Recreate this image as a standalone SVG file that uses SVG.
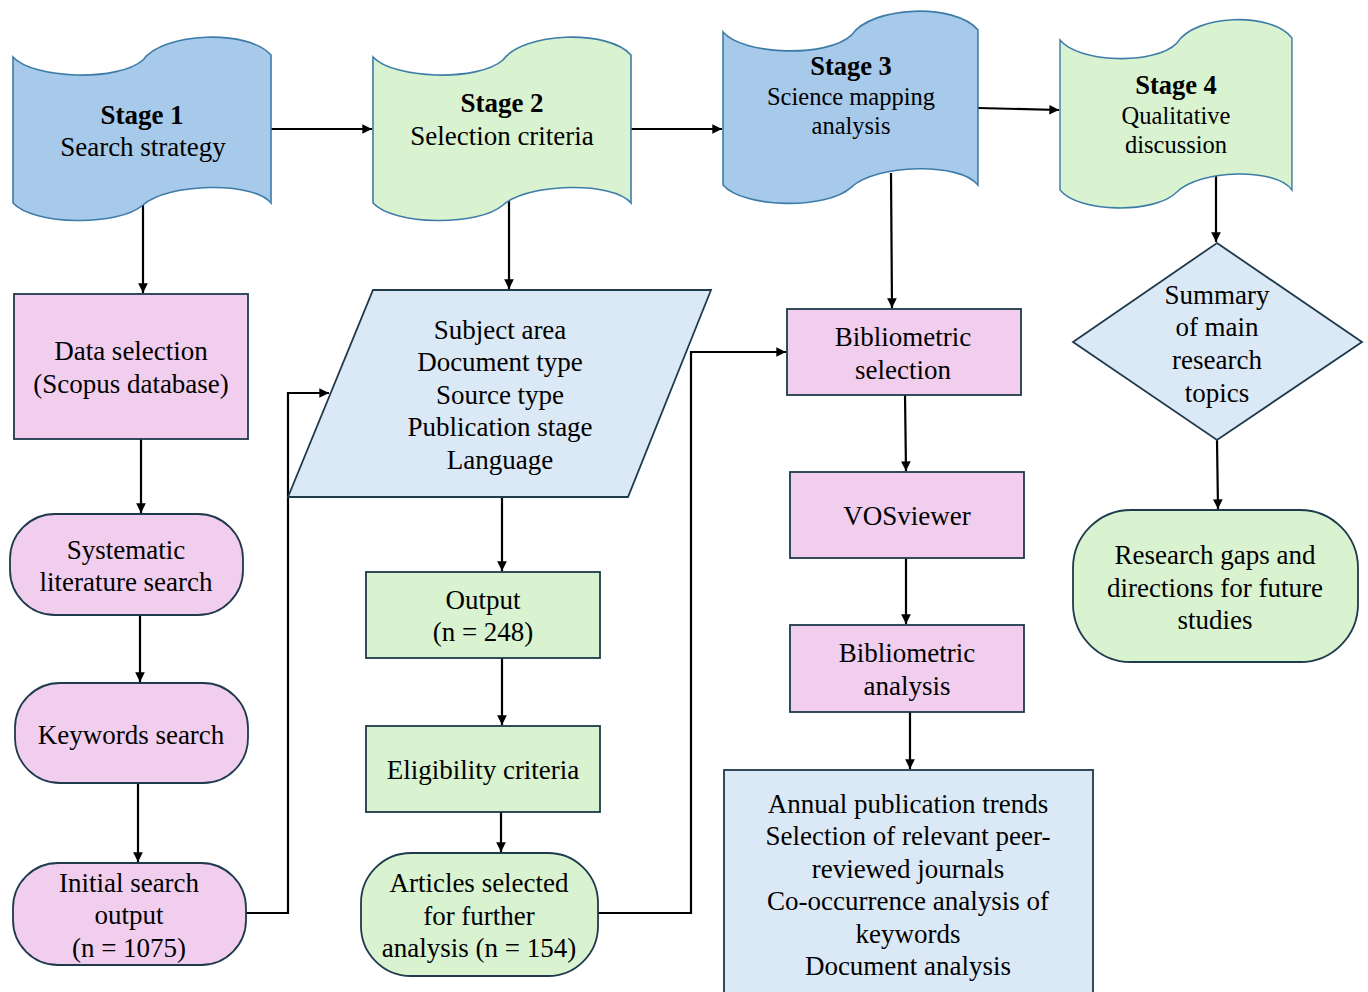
<svg xmlns="http://www.w3.org/2000/svg" width="1368" height="992" viewBox="0 0 1368 992">
<style>
  text { font-family: 'Liberation Serif', serif; font-size: 27px; fill: #000; text-anchor: middle; }
  .b { font-weight: bold; }
  .s { font-size: 24.5px; }
  .bs { font-size: 26.5px; }
  .ban { stroke: #3d7ca8; stroke-width: 1.6; vector-effect: non-scaling-stroke; }
  .blue { fill: #a7c9ea; }
  .green { fill: #d9f2d0; }
  .pink { fill: #f1cdee; stroke: #1e3a4c; stroke-width: 1.8; }
  .gbox { fill: #d9f2d0; stroke: #1e3a4c; stroke-width: 1.8; }
  .lb { fill: #dbe8f6; stroke: #1e3a4c; stroke-width: 1.8; }
  .c { fill: none; stroke: #000; stroke-width: 2.2; marker-end: url(#ah); }
</style>
<defs>
  <marker id="ah" viewBox="0 0 10 10" refX="10" refY="5" markerWidth="4.4" markerHeight="4.4" orient="auto" markerUnits="strokeWidth">
    <path d="M0,0 L10,5 L0,10 Z" fill="#000"/>
  </marker>
  <path id="banner" d="M0,0 C20,22 105,25 130,3 C150,-25 235,-28 258,-2 L258,146 C240,124 155,126 130,148 C105,170 20,168 0,146 Z"/>
</defs>
<rect width="1368" height="992" fill="#fff"/>

<g id="connectors">
  <path class="c" d="M271,129 L372,129"/>
  <path class="c" d="M631,129 L722,129"/>
  <path class="c" d="M978,108 L1059,110"/>
  <path class="c" d="M143,205 L143,293"/>
  <path class="c" d="M509,200 L509,289"/>
  <path class="c" d="M891,173 L892,308"/>
  <path class="c" d="M1216,173 L1216,242"/>
  <path class="c" d="M141,439 L141,513"/>
  <path class="c" d="M140,615 L140,682"/>
  <path class="c" d="M138,783 L138,862"/>
  <path class="c" d="M246,913 L288,913 L288,393 L329,393"/>
  <path class="c" d="M502,497 L502,571"/>
  <path class="c" d="M502,658 L502,725"/>
  <path class="c" d="M501,812 L501,852"/>
  <path class="c" d="M598,913 L691,913 L691,352 L786,352"/>
  <path class="c" d="M905,395 L906,471"/>
  <path class="c" d="M906,558 L906,624"/>
  <path class="c" d="M910,712 L910,769"/>
  <path class="c" d="M1217,440 L1218,509"/>
</g>

<g font-family="'Liberation Serif', serif">
<g id="stage1">
  <use href="#banner" class="ban blue" transform="translate(13,57)"/>
  <text x="142" y="124" class="b">Stage 1</text>
  <text x="143" y="156">Search strategy</text>
</g>
<g id="stage2">
  <use href="#banner" class="ban green" transform="translate(373,57)"/>
  <text x="502" y="112" class="b">Stage 2</text>
  <text x="502" y="145">Selection criteria</text>
</g>
<g id="stage3">
  <use href="#banner" class="ban blue" transform="translate(723,32) scale(0.988,1.048)"/>
  <text x="851" y="75" class="b bs">Stage 3</text>
  <text x="851" y="105" class="s">Science mapping</text>
  <text x="851" y="134" class="s">analysis</text>
</g>
<g id="stage4">
  <use href="#banner" class="ban green" transform="translate(1060,40) scale(0.899,1.027)"/>
  <text x="1176" y="94" class="b bs">Stage 4</text>
  <text x="1176" y="124" class="s">Qualitative</text>
  <text x="1176" y="153" class="s">discussion</text>
</g>

<g id="data-selection">
  <rect x="14" y="294" width="234" height="145" class="pink"/>
  <text x="131" y="360">Data selection</text>
  <text x="131" y="393">(Scopus database)</text>
</g>
<g id="systematic">
  <rect x="10" y="514" width="233" height="101" rx="45" ry="45" class="pink"/>
  <text x="126" y="559">Systematic</text>
  <text x="126" y="591">literature search</text>
</g>
<g id="keywords">
  <rect x="15" y="683" width="233" height="100" rx="45" ry="45" class="pink"/>
  <text x="131" y="744">Keywords search</text>
</g>
<g id="initial">
  <rect x="13" y="863" width="233" height="102" rx="45" ry="45" class="pink"/>
  <text x="129" y="892">Initial search</text>
  <text x="129" y="924">output</text>
  <text x="129" y="957">(n = 1075)</text>
</g>

<g id="criteria">
  <polygon points="373,290 711,290 628,497 288,497" class="lb"/>
  <text x="500" y="339">Subject area</text>
  <text x="500" y="371">Document type</text>
  <text x="500" y="404">Source type</text>
  <text x="500" y="436">Publication stage</text>
  <text x="500" y="469">Language</text>
</g>
<g id="output">
  <rect x="366" y="572" width="234" height="86" class="gbox"/>
  <text x="483" y="609">Output</text>
  <text x="483" y="641">(n = 248)</text>
</g>
<g id="eligibility">
  <rect x="366" y="726" width="234" height="86" class="gbox"/>
  <text x="483" y="779">Eligibility criteria</text>
</g>
<g id="articles">
  <rect x="361" y="853" width="237" height="123" rx="50" ry="50" class="gbox"/>
  <text x="479" y="892">Articles selected</text>
  <text x="479" y="925">for further</text>
  <text x="479" y="957">analysis (n = 154)</text>
</g>

<g id="bib-selection">
  <rect x="787" y="309" width="234" height="86" class="pink"/>
  <text x="903" y="346">Bibliometric</text>
  <text x="903" y="379">selection</text>
</g>
<g id="vosviewer">
  <rect x="790" y="472" width="234" height="86" class="pink"/>
  <text x="907" y="525">VOSviewer</text>
</g>
<g id="bib-analysis">
  <rect x="790" y="625" width="234" height="87" class="pink"/>
  <text x="907" y="662">Bibliometric</text>
  <text x="907" y="695">analysis</text>
</g>
<g id="analyses">
  <rect x="724" y="770" width="369" height="230" class="lb"/>
  <text x="908" y="813">Annual publication trends</text>
  <text x="908" y="845">Selection of relevant peer-</text>
  <text x="908" y="878">reviewed journals</text>
  <text x="908" y="910">Co-occurrence analysis of</text>
  <text x="908" y="943">keywords</text>
  <text x="908" y="975">Document analysis</text>
</g>

<g id="summary">
  <polygon points="1217,243 1362,342 1217,440 1073,342" class="lb"/>
  <text x="1217" y="304">Summary</text>
  <text x="1217" y="336">of main</text>
  <text x="1217" y="369">research</text>
  <text x="1217" y="402">topics</text>
</g>
<g id="gaps">
  <rect x="1073" y="510" width="285" height="152" rx="58" ry="58" class="gbox"/>
  <text x="1215" y="564">Research gaps and</text>
  <text x="1215" y="597">directions for future</text>
  <text x="1215" y="629">studies</text>
</g>
</g>
</svg>
